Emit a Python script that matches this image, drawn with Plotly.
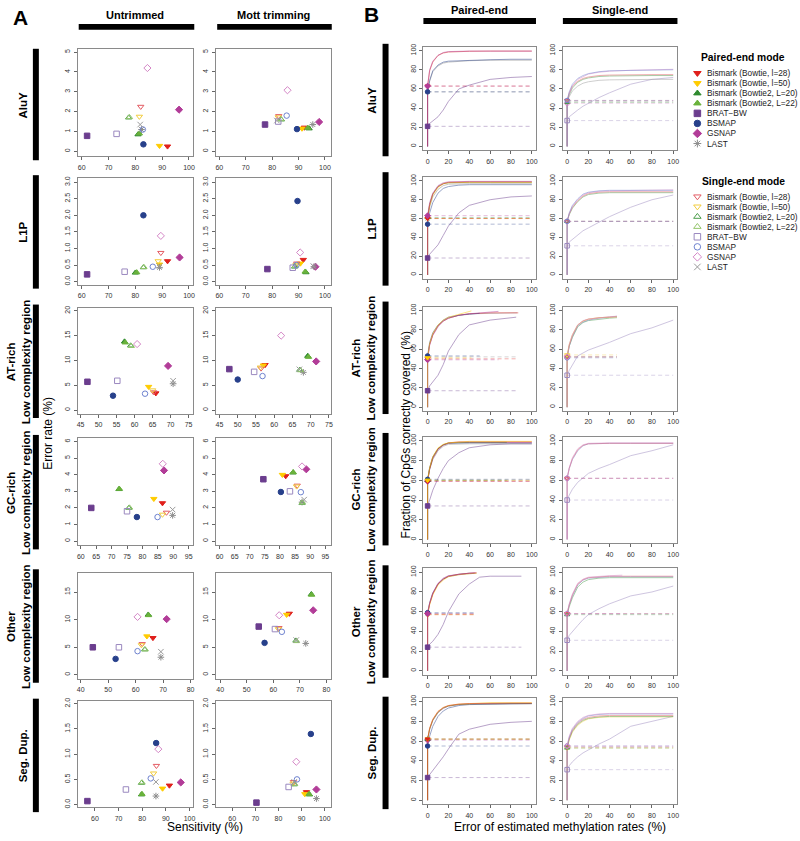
import plotly.graph_objects as go

W, H = 800, 841

# ---------------- methods / styles ----------------
METHODS = ["Bismark (Bowtie, l=28)", "Bismark (Bowtie, l=50)", "Bismark (Bowtie2, L=20)",
           "Bismark (Bowtie2, L=22)", "BRAT\u2212BW", "BSMAP", "GSNAP", "LAST"]
PE_SYMBOLS = ["triangle-down", "triangle-down", "triangle-up", "triangle-up",
              "square", "circle", "diamond", "asterisk-open"]
SE_SYMBOLS = ["triangle-down-open", "triangle-down-open", "triangle-up-open", "triangle-up-open",
              "square-open", "circle-open", "diamond-open", "x-thin-open"]
PE_COLORS = ["#e0201c", "#ffcc00", "#2f8a2f", "#6ab23c", "#6b3d8e", "#27408b", "#b23c98", "#8c8c8c"]
SE_COLORS = ["#e35a62", "#f2cc3c", "#4a9d4a", "#93c56a", "#9a88bf", "#6e82cf", "#d486c6", "#9a9a9a"]

REGION_LABELS = ["AluY", "L1P", "AT-rich<br>Low complexity region", "GC-rich<br>Low complexity region",
                 "Other<br>Low complexity region", "Seg. Dup."]
A_HEADERS = ["Untrimmed", "Mott trimming"]
B_HEADERS = ["Paired-end", "Single-end"]

# ---------------- panel A data: (sensitivity %, error rate %) per method ----------------
UT_ALUY_PE = [(92, 0.25), (89, 0.28), (81, 0.85), (81.5, 0.9), (62, 0.78), (83, 0.35), (96.3, 2.1), (82.3, 1.1)]
UT_ALUY_SE = [(82, 2.25), (81.5, 1.75), (77.5, 1.7), (77.8, 1.72), (73, 0.88), (82.8, 1.1), (84.5, 4.2), (81.8, 1.35)]
MT_ALUY_PE = [(92.2, 1.2), (91.3, 1.15), (94, 1.15), (93.5, 1.18), (77.3, 1.35), (89.4, 1.12), (97.8, 1.48), (95.4, 1.35)]
MT_ALUY_SE = [(82.5, 1.78), (82.3, 1.72), (83.5, 1.6), (83.3, 1.62), (82.3, 1.5), (85.5, 1.8), (85.8, 3.08), (81.8, 1.55)]

UT_L1P_PE = [(92, 0.62), (89, 0.52), (80, 0.27), (80.5, 0.28), (62, 0.22), (83, 2.0), (96.5, 0.73), (89, 0.43)]
UT_L1P_SE = [(89.5, 0.87), (88.5, 0.62), (83, 0.43), (83.2, 0.44), (76, 0.3), (86.5, 0.45), (89.5, 1.38), (89, 0.47)]
MT_L1P_PE = [(91.8, 0.66), (90.7, 0.55), (92.8, 0.28), (92.5, 0.3), (78.2, 0.38), (89.6, 2.43), (96.4, 0.45), (95.8, 0.45)]
MT_L1P_SE = [(89.3, 0.55), (89, 0.5), (88.5, 0.45), (88.7, 0.47), (87.8, 0.42), (89.2, 0.5), (90.6, 0.88), (95.6, 0.47)]

UT_AT_PE = [(65.9, 3.4), (63.9, 4.7), (57.2, 13.8), (57.4, 13.6), (46.9, 5.7), (54, 2.9), (69.3, 8.9), (70.7, 5.3)]
UT_AT_SE = [(65.3, 3.6), (65, 4.0), (58.9, 13), (59.1, 12.9), (55.2, 5.9), (62.9, 3.3), (60.7, 13.3), (70.7, 5.9)]
MT_AT_PE = [(57.5, 9.1), (57, 9.0), (69.2, 10.9), (69.4, 10.7), (47.7, 8.25), (50, 6.15), (71.5, 9.8), (68, 7.6)]
MT_AT_SE = [(56.4, 8.4), (56.2, 8.6), (67, 8.1), (67.2, 8.0), (54.5, 7.7), (56.8, 6.85), (61.9, 15), (66.9, 8.2)]

UT_GC_PE = [(86.5, 2.29), (83.7, 2.55), (72.4, 3.13), (72.5, 3.15), (63.4, 2.0), (78.2, 1.45), (87, 4.26), (89.8, 1.55)]
UT_GC_SE = [(87.8, 1.72), (86.5, 1.6), (75.6, 2.0), (75.8, 2.02), (75, 1.8), (84.9, 1.45), (86.6, 4.66), (89.8, 1.9)]
MT_GC_PE = [(81.9, 3.92), (80.8, 4.0), (84.3, 4.13), (84.4, 4.15), (74.5, 3.73), (80.3, 2.96), (88.7, 4.33), (87.3, 2.35)]
MT_GC_SE = [(85.7, 3.35), (85.5, 3.3), (87.3, 2.3), (87.4, 2.32), (83.3, 3.0), (86.9, 2.95), (87.3, 4.5), (88, 2.5)]

UT_OT_PE = [(66.3, 6.7), (64.1, 7.0), (64.6, 10.9), (64.7, 10.8), (44.4, 5.0), (52.7, 2.9), (71.3, 10.1), (69.2, 3.2)]
UT_OT_SE = [(62.4, 5.6), (62.1, 5.4), (63.3, 4.6), (63.5, 4.6), (53.9, 5.0), (60.7, 4.3), (60.7, 10.5), (69.2, 4.2)]
MT_OT_PE = [(66, 11.1), (65, 10.9), (74.3, 14.6), (74.4, 14.5), (54.5, 8.75), (56.7, 5.8), (75, 11.7), (72.2, 5.7)]
MT_OT_SE = [(62.1, 8.5), (61.9, 8.3), (68.5, 6.2), (68.7, 6.1), (60.6, 8.3), (63.2, 7.8), (62.2, 10.8), (68.6, 6.3)]

UT_SD_PE = [(91.5, 0.38), (88.6, 0.32), (79.7, 0.2), (79.9, 0.21), (56.8, 0.07), (85.9, 1.22), (96.3, 0.44), (85.8, 0.17)]
UT_SD_SE = [(86, 0.77), (84.8, 0.62), (79.7, 0.43), (79.9, 0.44), (73.1, 0.3), (83.6, 0.52), (86.8, 1.1), (85.8, 0.45)]
MT_SD_PE = [(92.1, 0.25), (91.4, 0.21), (93.4, 0.2), (93.2, 0.21), (70.5, 0.04), (94, 1.4), (96.4, 0.3), (96.4, 0.12)]
MT_SD_SE = [(86.5, 0.45), (86.3, 0.42), (86.8, 0.4), (87, 0.41), (84.4, 0.35), (88, 0.5), (87.7, 0.85), (86.8, 0.45)]

# ---------------- panel B data: cumulative fraction of CpGs vs error threshold ----------------
ERR_X = [0, 0, 2, 5, 10, 15, 20, 30, 40, 60, 80, 100]
X47 = [0, 0, 2, 5, 10, 15, 20, 30, 40, 47]

PE_ALUY = [
    (4, ERR_X, [0, 21, 24, 27, 31, 38, 47, 60, 64, 70, 72, 73]),
    (7, ERR_X, [0, 57, 68, 78, 84, 87, 88, 89, 89.5, 90, 90, 90]),
    (5, ERR_X, [0, 57, 69, 79, 85, 88, 89, 89.5, 90, 90.5, 91, 91]),
    (0, ERR_X, [0, 63, 79, 88, 95, 97.5, 98.5, 99, 99.3, 99.5, 99.5, 99.5]),
    (6, ERR_X, [0, 63, 80, 89, 95, 98, 99, 99.5, 99.5, 99.5, 99.5, 99.5]),
]
PE_L1P = [
    (4, ERR_X, [0, 18, 22, 26, 32, 42, 52, 66, 74, 80, 83, 84]),
    (5, ERR_X, [0, 54, 66, 77, 87, 92, 94, 95.5, 96, 96, 96, 96]),
    (7, ERR_X, [0, 60, 72, 83, 91, 95, 96.5, 97, 97, 97, 97, 97]),
    (2, ERR_X, [0, 61, 75, 86, 94, 97, 98, 98.5, 98.5, 98.5, 98.5, 98.5]),
    (1, ERR_X, [0, 60, 74, 85, 93, 97, 98, 98.5, 98.5, 98.5, 98.5, 98.5]),
    (0, ERR_X, [0, 60, 75, 86, 94, 97, 98.5, 99, 99, 99, 99, 99]),
    (6, ERR_X, [0, 63, 77, 87, 95, 98, 99, 99.5, 99.5, 99.5, 99.5, 99.5]),
]
PE_AT = [
    (4, [0, 0, 2, 5, 10, 15, 20, 30, 40, 60, 85], [0, 17, 22, 26, 33, 44, 58, 75, 85, 90, 93]),
    (7, [0, 0, 2, 5, 10, 15, 20, 30, 40, 60, 86], [0, 52, 65, 75, 84, 89, 92, 95, 96.5, 97, 97.5]),
    (0, [0, 0, 2, 5, 10, 15, 20, 30, 40, 60, 87], [0, 50, 65, 75, 84, 89, 92, 95, 96.5, 97.5, 97.5]),
    (5, [0, 0, 2, 5, 10, 15, 20, 30, 40, 50], [0, 53, 67, 77, 85, 90, 93, 95, 96, 97]),
    (6, [0, 0, 2, 5, 10, 15, 20, 30, 40, 50, 68], [0, 49, 64, 74, 83, 89, 92, 95, 96.5, 97.5, 99]),
    (1, [0, 0, 2, 5, 10, 15, 20, 30, 42], [0, 51, 66, 76, 85, 90, 93, 96, 99.5]),
]
PE_GC = [
    (4, ERR_X, [0, 34, 40, 50, 62, 72, 80, 88, 93, 96, 97, 97]),
    (7, ERR_X, [0, 60, 71, 81, 90, 94.5, 96.5, 97, 97, 97, 97, 97]),
    (5, ERR_X, [0, 61, 73, 84, 92, 96, 97.5, 98, 98, 98, 98, 98]),
    (6, ERR_X, [0, 59, 71, 82, 91, 95.5, 97.5, 98.5, 98.5, 98.5, 98.5, 98.5]),
    (2, [0, 0, 2, 5, 10, 15, 20, 30, 40, 60, 76], [0, 60, 72, 83, 92, 96, 98, 98.5, 98.5, 98.5, 98.5]),
    (0, ERR_X, [0, 59, 72, 83, 92, 96, 98, 99, 99, 99, 99, 99]),
    (1, ERR_X, [0, 60, 73, 84, 93, 96.5, 98, 99, 99.5, 99.5, 99.5, 99.5]),
]
PE_OT = [
    (4, [0, 0, 2, 5, 10, 15, 20, 30, 40, 50, 60, 90], [0, 24, 27, 30, 37, 47, 60, 78, 88, 95, 96, 96]),
    (7, X47, [0, 58, 68, 78, 88, 93, 95.5, 97.5, 98.5, 99]),
    (5, [0, 0, 2, 5, 10, 15, 20, 30, 40, 45], [0, 59, 69, 79, 88, 93, 96, 98, 99, 99]),
    (1, X47, [0, 57, 67, 77, 87, 92, 95.5, 97.5, 98.5, 99]),
    (0, X47, [0, 57, 68, 78, 88, 93, 96, 98, 99, 99.5]),
    (6, [0, 0, 2, 5, 10, 15, 20, 30, 40, 46], [0, 58, 69, 79, 89, 94, 96.5, 98, 99, 99.5]),
]
PE_SD = [
    (4, ERR_X, [0, 23, 26, 30, 37, 44, 52, 67, 72, 77, 79, 80]),
    (5, ERR_X, [0, 55, 65, 75, 85, 90.5, 93.5, 96, 97, 97.5, 98, 98]),
    (6, ERR_X, [0, 61, 72, 81, 89, 93, 95.5, 97, 97.5, 98, 98, 98]),
    (2, ERR_X, [0, 62, 72, 81, 89, 93.5, 95.5, 97, 97.5, 98, 98, 98]),
    (1, ERR_X, [0, 62, 73, 82, 90, 94, 96, 97.5, 98, 99, 99, 99]),
    (0, ERR_X, [0, 62, 73, 82, 90, 94, 96, 97.5, 98, 98.5, 98.5, 98.5]),
]

SE_ALUY = [
    (4, ERR_X, [0, 27, 31, 34, 38, 42, 45, 51, 56, 65, 70, 72]),
    (7, ERR_X, [0, 47, 52, 58, 63, 66, 67.5, 69, 69.5, 70, 70, 70]),
    (2, ERR_X, [0, 46, 54, 61, 67, 70, 71.5, 73, 73.5, 74, 74, 74]),
    (0, ERR_X, [0, 48, 56, 63, 68, 71, 72.5, 74, 74.5, 75, 75, 75]),
    (6, ERR_X, [0, 45, 55, 63, 70, 73, 75.5, 77.5, 78.5, 79.5, 80, 80.5]),
    (5, ERR_X, [0, 48, 57, 65, 71, 74, 76, 78, 79, 79.5, 80, 80]),
]
SE_L1P = [
    (4, ERR_X, [0, 31, 35, 38, 43, 47, 50, 56, 62, 72, 80, 85]),
    (2, ERR_X, [0, 57, 64, 71, 78, 83, 85.5, 87, 87.5, 87.5, 87.5, 87.5]),
    (0, ERR_X, [0, 57, 65, 72, 79, 84, 86.5, 88, 88.5, 88.5, 88.5, 88.5]),
    (6, ERR_X, [0, 57, 65, 73, 80, 85, 87.5, 89, 89.5, 90, 90.5, 90.5]),
    (5, ERR_X, [0, 57, 66, 74, 81, 86, 88, 89.5, 90, 90, 90, 90]),
]
SE_AT = [
    (4, ERR_X, [0, 33, 38, 44, 53, 56, 59, 63, 67, 76, 82, 90]),
    (2, X47, [0, 52, 63, 72, 83, 87.5, 89.5, 91, 92, 92.5]),
    (5, X47, [0, 51, 63, 73, 84, 88, 90, 92, 93, 94]),
    (0, X47, [0, 52, 64, 74, 85, 89, 91, 92.5, 93, 93.5]),
    (1, X47, [0, 54, 65, 75, 85, 89, 91, 92.5, 93, 93.5]),
    (6, X47, [0, 52, 65, 75, 85, 89.5, 91, 92.5, 93.5, 94]),
]
SE_GC = [
    (4, ERR_X, [0, 40, 45, 51, 58, 63, 67, 72, 76, 85, 90, 96]),
    (5, ERR_X, [0, 62, 72, 81, 90, 95, 97, 97.5, 97.5, 97.5, 97.5, 97.5]),
    (0, ERR_X, [0, 62, 72, 82, 91, 95.5, 97, 97.5, 97.5, 97.5, 97.5, 97.5]),
    (6, ERR_X, [0, 62, 73, 83, 92, 96, 97.5, 98, 98, 98, 98, 98]),
]
SE_OT = [
    (4, ERR_X, [0, 31, 36, 40, 46, 52, 57, 63, 68, 76, 80, 86]),
    (2, ERR_X, [0, 57, 65, 74, 85, 90, 92.5, 94, 94.5, 94.5, 94.5, 94.5]),
    (5, ERR_X, [0, 58, 67, 76, 87, 92, 94, 95, 95.5, 95.5, 95.5, 95.5]),
    (0, ERR_X, [0, 58, 67, 77, 88, 92.5, 94.5, 95.5, 96, 96, 96, 96]),
    (6, [0, 0, 2, 5, 10, 15, 20, 30, 40, 52], [0, 58, 68, 78, 89, 93, 95, 96, 96.5, 97]),
]
SE_SD = [
    (4, ERR_X, [0, 31, 35, 39, 44, 48, 51, 57, 62, 75, 80, 85]),
    (1, ERR_X, [0, 53, 61, 69, 76, 80, 82.5, 84, 84.5, 84.5, 84.5, 84.5]),
    (2, ERR_X, [0, 53, 62, 70, 77, 81, 83, 84.5, 85, 85, 85, 85]),
    (0, ERR_X, [0, 54, 63, 71, 78, 82, 84, 85.5, 86, 86, 86, 86]),
    (5, ERR_X, [0, 55, 64, 72, 79, 83, 85.5, 87, 87.5, 87.5, 87.5, 87.5]),
    (6, ERR_X, [0, 55, 65, 73, 80, 84, 86, 87.5, 88, 88, 88, 88]),
]

A_GRID = [
    [(UT_ALUY_PE, UT_ALUY_SE), (MT_ALUY_PE, MT_ALUY_SE)],
    [(UT_L1P_PE, UT_L1P_SE), (MT_L1P_PE, MT_L1P_SE)],
    [(UT_AT_PE, UT_AT_SE), (MT_AT_PE, MT_AT_SE)],
    [(UT_GC_PE, UT_GC_SE), (MT_GC_PE, MT_GC_SE)],
    [(UT_OT_PE, UT_OT_SE), (MT_OT_PE, MT_OT_SE)],
    [(UT_SD_PE, UT_SD_SE), (MT_SD_PE, MT_SD_SE)],
]
B_GRID = [
    (PE_ALUY, SE_ALUY), (PE_L1P, SE_L1P), (PE_AT, SE_AT),
    (PE_GC, SE_GC), (PE_OT, SE_OT), (PE_SD, SE_SD),
]

# ---------------- geometry (pixels) ----------------
A_COLS = [(77, 193), (216, 331)]
A_ROWS = [(46, 154), (176, 283), (306, 413), (437, 545), (573, 679), (701, 808)]
B_COLS = [(424, 537), (564, 679)]
B_ROWS = [(44, 148), (175, 277), (305, 410), (436, 543), (568, 675), (698, 805)]

A_XR = [[(58.5, 101.6), (58.8, 102.2)],
        [(58.5, 101.6), (58.8, 102.2)],
        [(44.2, 76.3), (44.1, 75.5)],
        [(59.0, 96.5), (58.9, 96.8)],
        [(38.9, 81.0), (38.5, 81.6)],
        [(52.7, 101.6), (53.1, 102.6)]]
A_YR = [(-0.25, 5.17), (-0.09, 3.12), (-0.8, 20.66), (-0.26, 6.22), (-0.7, 18.4), (-0.05, 2.06)]
A_XDT = [10, 10, 5, 5, 10, 10]
A_YDT = [1, 0.5, 5, 1, 5, 0.5]
A_YFMT = ["", ".1f", "", "", "", ".1f"]

FONT = "Liberation Sans, Arial, Helvetica, sans-serif"

fig = go.Figure()
layout = dict(width=W, height=H, margin=dict(l=0, r=0, t=0, b=0),
              paper_bgcolor="white", plot_bgcolor="rgba(0,0,0,0)", showlegend=False,
              font=dict(family=FONT, color="#000"))
axis_common = dict(showline=True, mirror=True, linecolor="#8a8a8a", linewidth=1,
                   ticks="outside", ticklen=3, tickwidth=1, tickcolor="#666",
                   showgrid=False, zeroline=False, tickfont=dict(size=7, color="#333", family=FONT),
                   fixedrange=True)
axis_id = [0]


def make_axes(xp, yp, xr, yr, xdt, ydt, yfmt=""):
    axis_id[0] += 1
    k = axis_id[0]
    s = "" if k == 1 else str(k)
    layout["xaxis" + s] = dict(axis_common, domain=[xp[0] / W, xp[1] / W], range=list(xr),
                               tick0=0, dtick=xdt, anchor="y" + s, ticklabelstandoff=1)
    layout["yaxis" + s] = dict(axis_common, domain=[1 - yp[1] / H, 1 - yp[0] / H], range=list(yr),
                               tick0=0, dtick=ydt, tickformat=yfmt, tickangle=-90,
                               anchor="x" + s, ticklabelstandoff=1)
    return "x" + s, "y" + s


# ---------------- panel A scatter ----------------
for r, row in enumerate(A_GRID):
    for c, (pe, se) in enumerate(row):
        xa, ya = make_axes(A_COLS[c], A_ROWS[r], A_XR[r][c], A_YR[r], A_XDT[r], A_YDT[r], A_YFMT[r])
        for pts, syms, cols in ((pe, PE_SYMBOLS, PE_COLORS), (se, SE_SYMBOLS, SE_COLORS)):
            fig.add_trace(go.Scatter(
                x=[p[0] for p in pts], y=[p[1] for p in pts], mode="markers",
                marker=dict(symbol=syms, color=cols, size=5.5, line=dict(width=1, color=cols)),
                xaxis=xa, yaxis=ya, hoverinfo="skip", cliponaxis=False))

# ---------------- panel B curves ----------------
for r, (pe_curves, se_curves) in enumerate(B_GRID):
    for c, (curves, syms, cols) in enumerate(((pe_curves, PE_SYMBOLS, PE_COLORS),
                                               (se_curves, SE_SYMBOLS, SE_COLORS))):
        xa, ya = make_axes(B_COLS[c], B_ROWS[r], (-4, 104), (-4, 104), 20, 20)
        for m, xs, ys in curves:
            fig.add_trace(go.Scatter(x=[xs[1], xs[-1]], y=[ys[1], ys[1]], mode="lines",
                                     line=dict(color=cols[m], width=0.8, dash="4px,3px"), opacity=0.45,
                                     xaxis=xa, yaxis=ya, hoverinfo="skip"))
        for m, xs, ys in curves:
            fig.add_trace(go.Scatter(x=xs, y=ys, mode="lines",
                                     line=dict(color=cols[m], width=0.8), opacity=0.6,
                                     xaxis=xa, yaxis=ya, hoverinfo="skip"))
        fig.add_trace(go.Scatter(
            x=[cv[1][1] for cv in curves], y=[cv[2][1] for cv in curves], mode="markers",
            marker=dict(symbol=[syms[cv[0]] for cv in curves], color=[cols[cv[0]] for cv in curves],
                        size=4.5, line=dict(width=1, color=[cols[cv[0]] for cv in curves])),
            xaxis=xa, yaxis=ya, hoverinfo="skip", cliponaxis=False))

# ---------------- legend (markers on a pixel-space overlay axis, labels as annotations) ----------------
xo, yo = make_axes((0, W), (0, H), (0, W), (H, 0), 100, 100)
layout[xo.replace("x", "xaxis")]["visible"] = False
layout[yo.replace("y", "yaxis")]["visible"] = False
LEG_PE_TOP, LEG_SE_TOP, LEG_STEP, LEG_X, LEG_TX = 70.5, 194.5, 10.1, 699, 707
leg_rows = []
for top, syms, cols in ((LEG_PE_TOP, PE_SYMBOLS, PE_COLORS), (LEG_SE_TOP, SE_SYMBOLS, SE_COLORS)):
    ys = [top + i * LEG_STEP for i in range(len(METHODS))]
    leg_rows.append(ys)
    fig.add_trace(go.Scatter(
        x=[LEG_X] * len(METHODS), y=ys, mode="markers",
        marker=dict(symbol=syms, color=cols, size=6.5, line=dict(width=1, color=cols)),
        xaxis=xo, yaxis=yo, hoverinfo="skip", cliponaxis=False))

# ---------------- annotations & shapes ----------------
ann = []
shapes = []


def text(x, y, s, size, bold=False, angle=0, xanchor="center", color="#000"):
    ann.append(dict(x=x / W, y=1 - y / H, xref="paper", yref="paper", text=("<b>%s</b>" % s) if bold else s,
                    showarrow=False, xanchor=xanchor, yanchor="middle", textangle=angle,
                    font=dict(size=size, family=FONT, color=color)))


def bar(x0, y0, x1, y1):
    shapes.append(dict(type="rect", xref="paper", yref="paper", x0=x0 / W, x1=x1 / W,
                       y0=1 - y1 / H, y1=1 - y0 / H, fillcolor="#000", line=dict(width=0)))


for ys in leg_rows:
    for name, yy in zip(METHODS, ys):
        text(LEG_TX, yy, name, 8.3, xanchor="left", color="#222")

text(20, 15, "A", 21, bold=True)
text(372, 12, "B", 21, bold=True)
for (x0, x1), h in zip(A_COLS, A_HEADERS):
    text((x0 + x1) / 2, 12, h, 11, bold=True)
    bar(x0 + 1, 21, x1 + 1, 27)
for (x0, x1), h in zip(B_COLS, B_HEADERS):
    text((x0 + x1) / 2, 7, h, 11, bold=True)
    bar(x0, 15, x1, 21)

A_BARS = [(46, 158), (173, 287), (303, 417), (434, 549), (569, 683), (699, 813)]
B_BARS = [(41, 154), (170, 284), (300, 413), (432, 545), (565, 678), (697, 810)]
for lab, (a0, a1), (b0, b1) in zip(REGION_LABELS, A_BARS, B_BARS):
    two = "<br>" in lab
    bar(32, a0, 38, a1)
    bar(383, b0, 389, b1)
    text(17 if two else 22, (a0 + a1) / 2, lab, 11.5, bold=True, angle=-90)
    text(364 if two else 372, (b0 + b1) / 2, lab, 11.5, bold=True, angle=-90)

text(47, 432, "Error rate (%)", 12, angle=-90)
text(205, 828, "Sensitivity (%)", 12)
text(406, 434, "Fraction of CpGs correctly covered (%)", 12, angle=-90)
text(561, 828, "Error of estimated methylation rates (%)", 12)
text(745, 55, "Paired-end mode", 10.3, bold=True)
text(745, 179, "Single-end mode", 10.3, bold=True)

layout["annotations"] = ann
layout["shapes"] = shapes
fig.update_layout(**layout)
fig.write_html("out.html", config={"displayModeBar": False},
               post_script="document.body.style.margin='0';")
